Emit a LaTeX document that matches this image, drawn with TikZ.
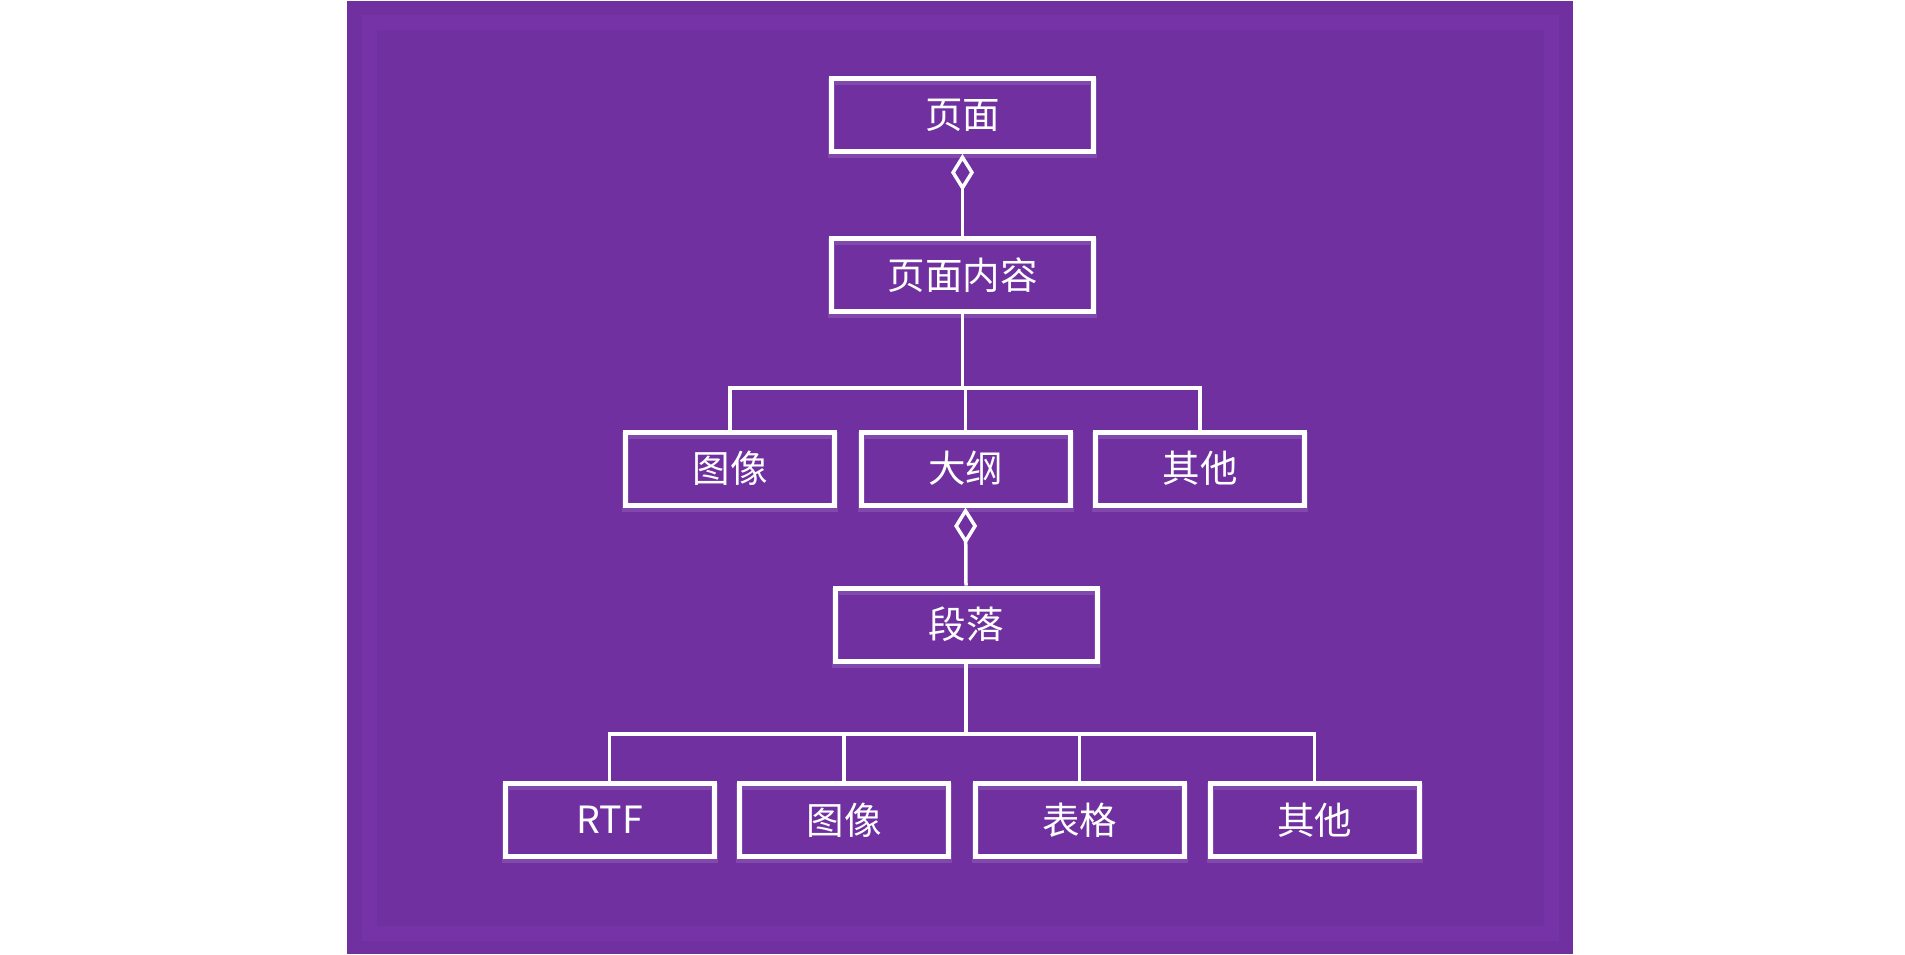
\documentclass[tikz,border=0pt]{standalone}
\usepackage{fontspec}
\newfontfamily\cjk{Noto Sans CJK SC}
\usetikzlibrary{arrows.meta}
\definecolor{bgpurple}{HTML}{7030A0}
\definecolor{glowpurple}{HTML}{7B35AD}
\tikzset{
  box/.style={draw=white, line width=5pt, minimum height=73pt, inner sep=0pt,
    text=white, font=\cjk\fontsize{37.5}{44}\selectfont,
    preaction={draw=white, draw opacity=0.12, line width=7pt, transform canvas={yshift=-3pt}}},
  wide/.style={box, minimum width=262pt},
  narrow/.style={box, minimum width=209pt},
  conn/.style={draw=white, line width=3.5pt},
  agg/.style={conn, -{Diamond[open, length=37pt, width=23pt, line width=3.5pt]}}
}
\begin{document}
\begin{tikzpicture}[x=1pt, y=-1pt]
\useasboundingbox (0,0) rectangle (1905,955);
\fill[white] (0,0) rectangle (1905,955);
\fill[bgpurple] (347,1) rectangle (1573,954);
\draw[glowpurple, line width=15pt, opacity=0.6] (369,23) rectangle (1551,933);

\node[wide] (p1) at (962.5,115) {页面};
\node[wide] (p2) at (962.5,275) {页面内容};
\node[narrow] (img1) at (730,468.5) {图像};
\node[narrow] (out) at (965.5,468.5) {大纲};
\node[narrow] (oth1) at (1200,468.5) {其他};
\node[wide] (para) at (966,624.5) {段落};
\node[narrow] (rtf) at (609.5,820) {RTF};
\node[narrow] (img2) at (844,820) {图像};
\node[narrow] (tab) at (1079.5,820) {表格};
\node[narrow] (oth2) at (1314.5,820) {其他};

\coordinate (b1) at (p2.south |- 0,388);
\coordinate (b2) at (para.south |- 0,734);

\draw[agg] (p2.north) -- (p1.south);
\draw[agg] (para.north) -- (out.south);

\draw[conn] (p2.south) -- (b1);
\draw[conn] (img1.north) |- (b1);
\draw[conn] (oth1.north) |- (b1);
\draw[conn] (out.north) |- (b1);

\draw[conn] (para.south) -- (b2);
\draw[conn] (rtf.north) |- (b2);
\draw[conn] (img2.north) |- (b2);
\draw[conn] (tab.north) |- (b2);
\draw[conn] (oth2.north) |- (b2);
\end{tikzpicture}
\end{document}
